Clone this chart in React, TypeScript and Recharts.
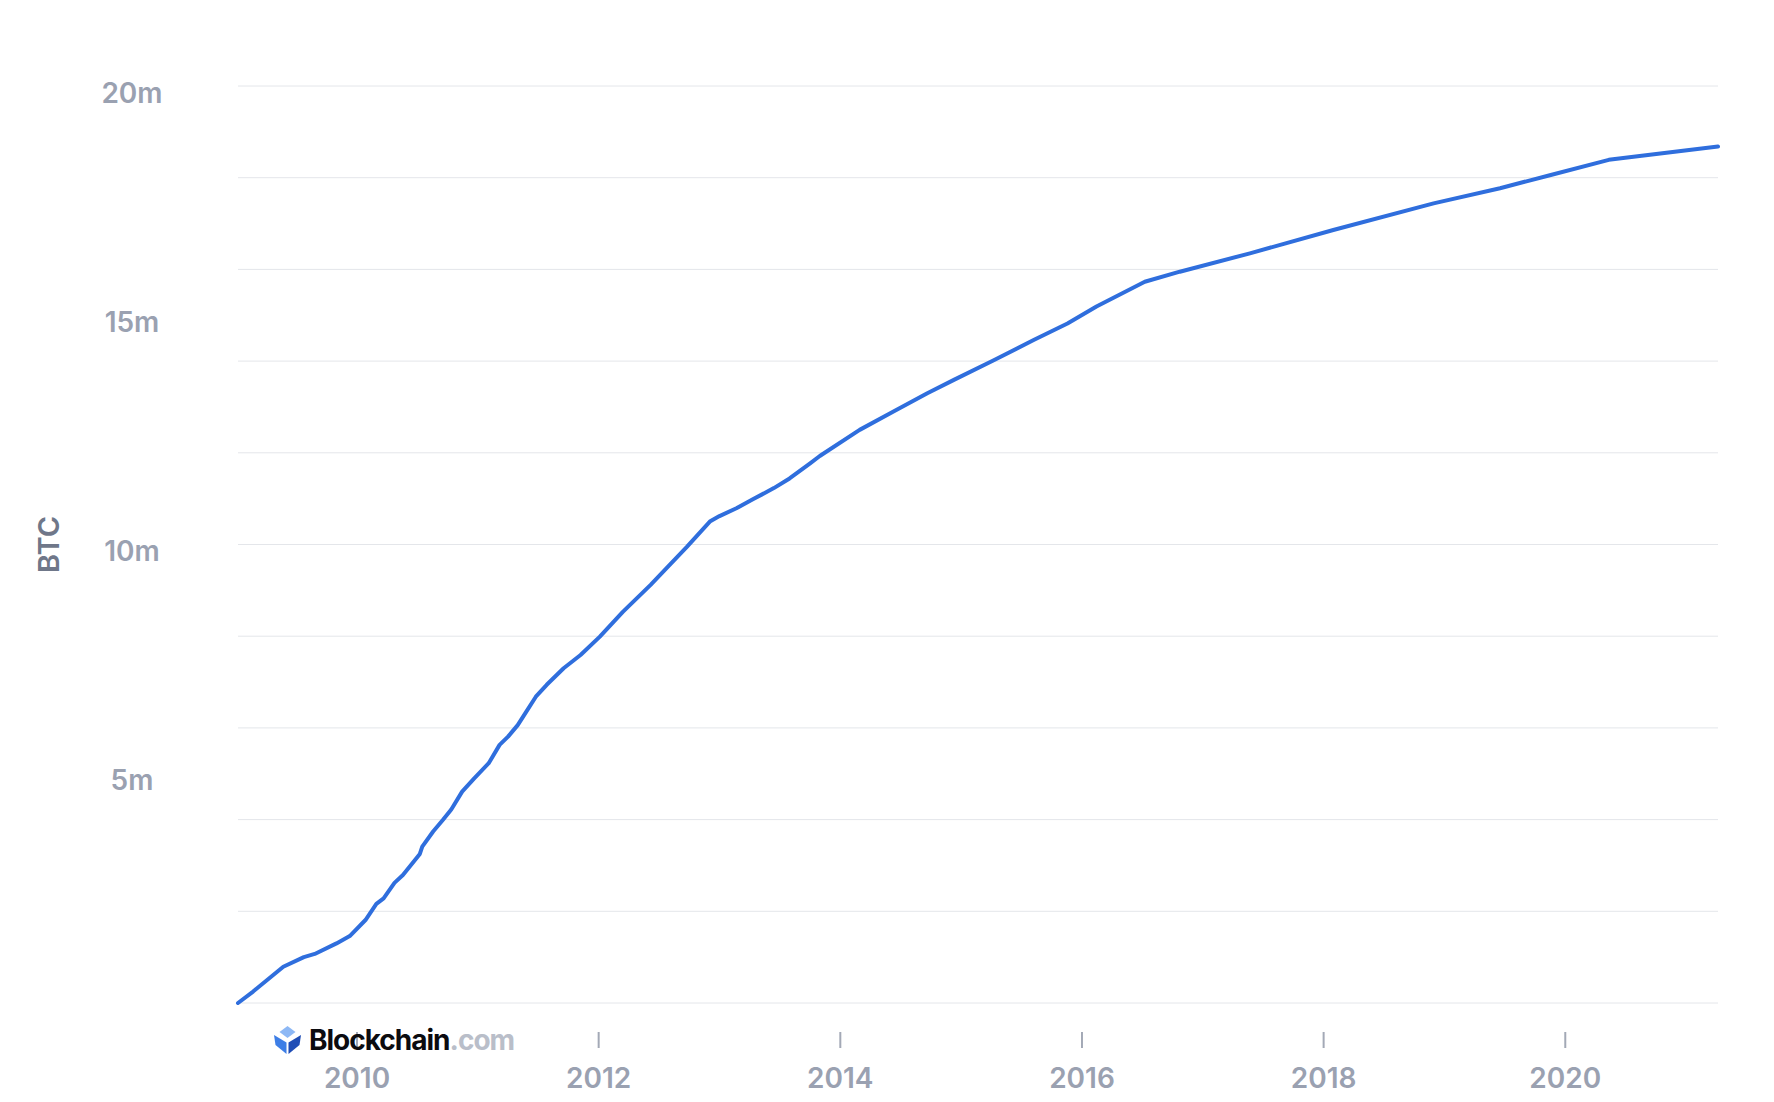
import React from 'react';
import { LineChart, Line, XAxis, YAxis, ReferenceLine } from 'recharts';

// Decimal year of each sample
const YEARS = [
  2009.015, 2009.14, 2009.39, 2009.56, 2009.65, 2009.83, 2009.94, 2010.07, 2010.16, 2010.22,
  2010.31, 2010.38, 2010.52, 2010.54, 2010.63, 2010.71, 2010.78, 2010.87, 2010.97, 2011.09,
  2011.18, 2011.25, 2011.33, 2011.40, 2011.48, 2011.57, 2011.71, 2011.85, 2012.01, 2012.20,
  2012.43, 2012.56, 2012.73, 2012.92, 2013.0, 2013.14, 2013.28, 2013.45, 2013.58, 2013.75,
  2013.83, 2014.16, 2014.44, 2014.72, 2014.94, 2015.27, 2015.60, 2015.88, 2016.12, 2016.52,
  2016.81, 2017.39, 2018.08, 2018.91, 2019.46, 2019.88, 2020.36, 2021.264,
];

// Bitcoins in circulation, millions
const SUPPLY = [
  0, 0.25, 0.79, 1.0, 1.07, 1.30, 1.46, 1.81, 2.16, 2.28,
  2.62, 2.79, 3.25, 3.41, 3.74, 3.99, 4.22, 4.61, 4.90, 5.23,
  5.63, 5.81, 6.06, 6.35, 6.68, 6.94, 7.30, 7.59, 7.99, 8.53,
  9.12, 9.48, 9.95, 10.50, 10.62, 10.79, 10.99, 11.23, 11.44, 11.77,
  11.93, 12.50, 12.90, 13.30, 13.59, 14.02, 14.46, 14.82, 15.19, 15.73,
  15.95, 16.35, 16.86, 17.44, 17.77, 18.06, 18.39, 18.68,
];

const X_TICKS = [2010, 2012, 2014, 2016, 2018, 2020];
const Y_TICKS = [5, 10, 15, 20];
const GRID_VALUES = [0, 2, 4, 6, 8, 10, 12, 14, 16, 18, 20];

const data = YEARS.map((year, i) => ({ year, supply: SUPPLY[i] }));

const FONT = 'Inter, "Noto Sans", sans-serif';
const LABEL_COLOR = '#9AA1B1';

const YTick = (props: any) => {
  const { y, payload } = props;
  return (
    <text
      x={132}
      y={y + 6.5}
      textAnchor="middle"
      dominantBaseline="central"
      fontFamily={FONT}
      fontWeight={600}
      fontSize={28}
      fill={LABEL_COLOR}
    >
      {`${payload.value}m`}
    </text>
  );
};

const XTick = (props: any) => {
  const { x, y, payload } = props;
  return (
    <g>
      <line x1={x} x2={x} y1={y + 29} y2={y + 45} stroke="#A3A9B6" strokeWidth={2} />
      <text
        x={x}
        y={y + 75}
        textAnchor="middle"
        dominantBaseline="central"
        fontFamily={FONT}
        fontWeight={600}
        fontSize={28}
        fill={LABEL_COLOR}
      >
        {payload.value}
      </text>
    </g>
  );
};

const BtcLabel = (props: any) => {
  const { viewBox } = props;
  const cy = viewBox.y + viewBox.height / 2;
  return (
    <text
      x={48}
      y={cy}
      transform={`rotate(-90, 48, ${cy})`}
      textAnchor="middle"
      dominantBaseline="central"
      fontFamily={FONT}
      fontWeight={600}
      fontSize={29}
      fill="#6F7789"
    >
      BTC
    </text>
  );
};

const Logo = () => (
  <svg
    width={1774}
    height={1102}
    style={{ position: 'absolute', left: 0, top: 0, pointerEvents: 'none' }}
  >
    <polygon points="287.5,1026 295.5,1032 287.5,1038 279.5,1032" fill="#8DB8F5" />
    <polygon points="274,1035 286.5,1042.5 286.5,1054 275.5,1045" fill="#3D7EE6" />
    <polygon points="301,1035 288.5,1042.5 288.5,1054 299.5,1045" fill="#1F4DB6" />
    <text
      x={309}
      y={1049.5}
      fontFamily={FONT}
      fontWeight={700}
      fontSize={28}
      letterSpacing={-1}
    >
      <tspan fill="#0B0B0F">Blockchain</tspan>
      <tspan fill="#B9BEC9">.com</tspan>
    </text>
  </svg>
);

export default function App() {
  return (
    <div style={{ position: 'absolute', left: 0, top: 0, width: 1774, height: 1102, background: '#fff' }}>
      <LineChart
        width={1774}
        height={1102}
        data={data}
        margin={{ top: 86, right: 56, bottom: 0, left: 0 }}
      >
        {GRID_VALUES.map((v) => (
          <ReferenceLine key={v} y={v} stroke="#E4E6EA" strokeWidth={1} />
        ))}
        <XAxis
          dataKey="year"
          type="number"
          domain={['dataMin', 'dataMax']}
          ticks={X_TICKS}
          interval={0}
          height={99}
          axisLine={false}
          tickLine={false}
          tickSize={0}
          tickMargin={0}
          tick={<XTick />}
        />
        <YAxis
          type="number"
          domain={[0, 20]}
          ticks={Y_TICKS}
          interval={0}
          width={238}
          axisLine={false}
          tickLine={false}
          tickSize={0}
          tickMargin={0}
          tick={<YTick />}
          label={<BtcLabel />}
        />
        <Line
          type="linear"
          dataKey="supply"
          stroke="#2F6EDD"
          strokeWidth={4}
          dot={false}
          isAnimationActive={false}
          strokeLinejoin="round"
          strokeLinecap="round"
        />
      </LineChart>
      <Logo />
    </div>
  );
}
